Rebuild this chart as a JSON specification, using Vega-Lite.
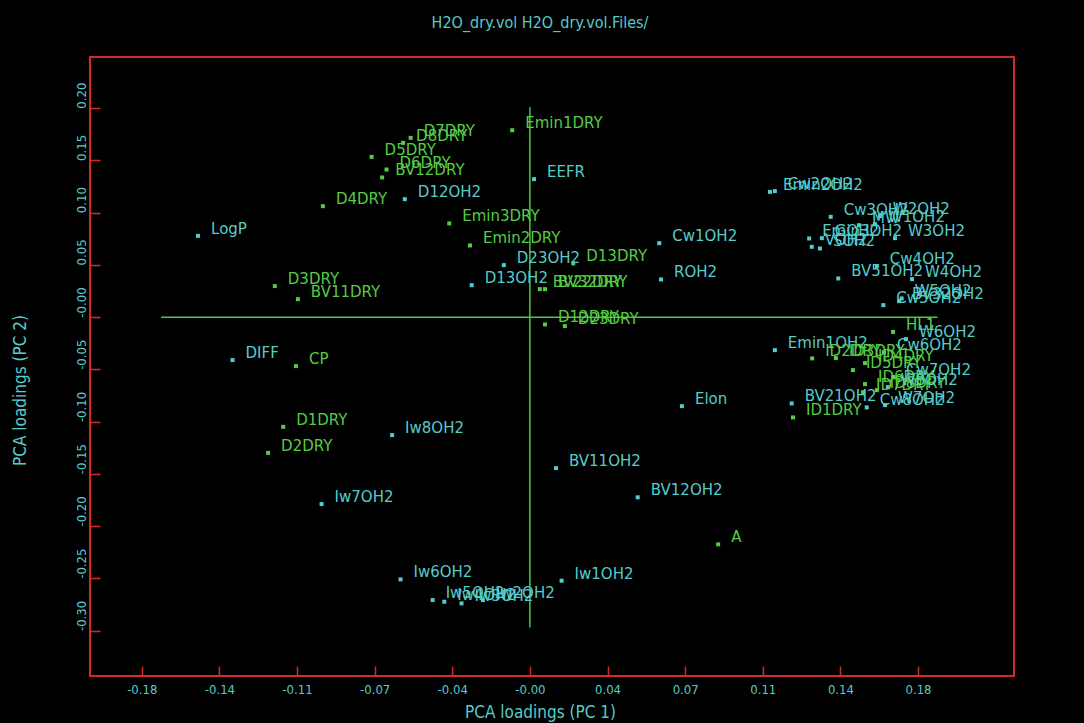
{
  "$schema": "https://vega.github.io/schema/vega-lite/v6.json",
  "width": 924,
  "height": 619,
  "autosize": "none",
  "padding": {"left": 90, "top": 57, "right": 70, "bottom": 47},
  "background": "#000000",
  "title": {
    "text": "H2O_dry.vol H2O_dry.vol.Files/",
    "color": "#55cccc",
    "font": "Liberation Sans Narrow, DejaVu Sans Condensed, sans-serif",
    "fontSize": 16,
    "fontWeight": "normal",
    "offset": 26,
    "dx": -12
  },
  "config": {
    "view": {"stroke": "#d42a2a", "strokeWidth": 2},
    "axis": {
      "grid": false,
      "domain": false,
      "tickColor": "#d42a2a",
      "tickWidth": 1.5,
      "tickSize": -10,
      "labelColor": "#55cccc",
      "labelFont": "Liberation Sans Narrow, DejaVu Sans Condensed, sans-serif",
      "labelFontSize": 13,
      "titleColor": "#55cccc",
      "titleFont": "Liberation Sans Narrow, DejaVu Sans Condensed, sans-serif",
      "titleFontSize": 17,
      "titleFontWeight": "normal"
    }
  },
  "datasets": {
    "cross": [
      {"x1": -0.171, "x2": 0.189, "y1": 0, "y2": 0},
      {"x1": 0, "x2": 0, "y1": 0.201, "y2": -0.297}
    ],
    "loadings": [
      {"name": "LogP", "pc1": -0.1539, "pc2": 0.0778, "set": "OH2"},
      {"name": "D4DRY", "pc1": -0.0960, "pc2": 0.1062, "set": "DRY"},
      {"name": "D3DRY", "pc1": -0.1183, "pc2": 0.0297, "set": "DRY"},
      {"name": "BV11DRY", "pc1": -0.1076, "pc2": 0.0172, "set": "DRY"},
      {"name": "D12OH2", "pc1": -0.0580, "pc2": 0.1129, "set": "OH2"},
      {"name": "D7DRY", "pc1": -0.0553, "pc2": 0.1716, "set": "DRY"},
      {"name": "D8DRY", "pc1": -0.0588, "pc2": 0.1668, "set": "DRY"},
      {"name": "D5DRY", "pc1": -0.0734, "pc2": 0.1534, "set": "DRY"},
      {"name": "D6DRY", "pc1": -0.0665, "pc2": 0.1413, "set": "DRY"},
      {"name": "BV12DRY", "pc1": -0.0685, "pc2": 0.1337, "set": "DRY"},
      {"name": "Emin1DRY", "pc1": -0.0082, "pc2": 0.1789, "set": "DRY"},
      {"name": "EEFR", "pc1": 0.0019, "pc2": 0.1321, "set": "OH2"},
      {"name": "Emin3DRY", "pc1": -0.0374, "pc2": 0.0897, "set": "DRY"},
      {"name": "Emin2DRY", "pc1": -0.0278, "pc2": 0.0686, "set": "DRY"},
      {"name": "D23OH2", "pc1": -0.0121, "pc2": 0.0498, "set": "OH2"},
      {"name": "D13DRY", "pc1": 0.0201, "pc2": 0.0514, "set": "DRY"},
      {"name": "D13OH2", "pc1": -0.0270, "pc2": 0.0306, "set": "OH2"},
      {"name": "BV22DRY", "pc1": 0.0046, "pc2": 0.0268, "set": "DRY"},
      {"name": "BV32DRY", "pc1": 0.0070, "pc2": 0.0268, "set": "DRY"},
      {"name": "Cw1OH2", "pc1": 0.0600, "pc2": 0.0708, "set": "OH2"},
      {"name": "ROH2", "pc1": 0.0608, "pc2": 0.0361, "set": "OH2"},
      {"name": "D12DRY", "pc1": 0.0070, "pc2": -0.0070, "set": "DRY"},
      {"name": "D23DRY", "pc1": 0.0162, "pc2": -0.0086, "set": "DRY"},
      {"name": "DIFF", "pc1": -0.1379, "pc2": -0.0411, "set": "OH2"},
      {"name": "CP", "pc1": -0.1085, "pc2": -0.0469, "set": "DRY"},
      {"name": "D1DRY", "pc1": -0.1144, "pc2": -0.1050, "set": "DRY"},
      {"name": "D2DRY", "pc1": -0.1214, "pc2": -0.1299, "set": "DRY"},
      {"name": "Iw7OH2", "pc1": -0.0966, "pc2": -0.1789, "set": "OH2"},
      {"name": "Iw8OH2", "pc1": -0.0639, "pc2": -0.1129, "set": "OH2"},
      {"name": "BV11OH2", "pc1": 0.0121, "pc2": -0.1445, "set": "OH2"},
      {"name": "BV12OH2", "pc1": 0.0500, "pc2": -0.1725, "set": "OH2"},
      {"name": "A", "pc1": 0.0873, "pc2": -0.2175, "set": "DRY"},
      {"name": "Iw6OH2", "pc1": -0.0600, "pc2": -0.2510, "set": "OH2"},
      {"name": "Iw1OH2", "pc1": 0.0147, "pc2": -0.2523, "set": "OH2"},
      {"name": "Iw5OH2", "pc1": -0.0451, "pc2": -0.2708, "set": "OH2"},
      {"name": "Iw4OH2", "pc1": -0.0397, "pc2": -0.2724, "set": "OH2"},
      {"name": "Iw3OH2", "pc1": -0.0317, "pc2": -0.2740, "set": "OH2"},
      {"name": "Iw2OH2", "pc1": -0.0218, "pc2": -0.2708, "set": "OH2"},
      {"name": "Elon", "pc1": 0.0705, "pc2": -0.0852, "set": "OH2"},
      {"name": "Emin1OH2", "pc1": 0.1136, "pc2": -0.0316, "set": "OH2"},
      {"name": "BV21OH2", "pc1": 0.1214, "pc2": -0.0826, "set": "OH2"},
      {"name": "ID1DRY", "pc1": 0.1220, "pc2": -0.0960, "set": "DRY"},
      {"name": "HL1", "pc1": 0.1684, "pc2": -0.0141, "set": "DRY"},
      {"name": "W6OH2", "pc1": 0.1744, "pc2": -0.0211, "set": "OH2"},
      {"name": "Cw6OH2", "pc1": 0.1642, "pc2": -0.0335, "set": "OH2"},
      {"name": "Emin2OH2", "pc1": 0.1113, "pc2": 0.1199, "set": "OH2"},
      {"name": "Cw2OH2", "pc1": 0.1136, "pc2": 0.1206, "set": "OH2"},
      {"name": "Cw3OH2", "pc1": 0.1395, "pc2": 0.0960, "set": "OH2"},
      {"name": "W2OH2", "pc1": 0.1623, "pc2": 0.0967, "set": "OH2"},
      {"name": "MW", "pc1": 0.1526, "pc2": 0.0880, "set": "OH2"},
      {"name": "W1OH2", "pc1": 0.1600, "pc2": 0.0890, "set": "OH2"},
      {"name": "W3OH2", "pc1": 0.1693, "pc2": 0.0756, "set": "OH2"},
      {"name": "GOH2", "pc1": 0.1354, "pc2": 0.0756, "set": "OH2"},
      {"name": "Emin3OH2", "pc1": 0.1295, "pc2": 0.0753, "set": "OH2"},
      {"name": "VOH2", "pc1": 0.1307, "pc2": 0.0673, "set": "OH2"},
      {"name": "SOH2", "pc1": 0.1345, "pc2": 0.0657, "set": "OH2"},
      {"name": "Cw4OH2", "pc1": 0.1609, "pc2": 0.0488, "set": "OH2"},
      {"name": "BV51OH2", "pc1": 0.1430, "pc2": 0.0370, "set": "OH2"},
      {"name": "W4OH2", "pc1": 0.1772, "pc2": 0.0364, "set": "OH2"},
      {"name": "BV32OH2", "pc1": 0.1712, "pc2": 0.0153, "set": "OH2"},
      {"name": "Cw5OH2", "pc1": 0.1639, "pc2": 0.0115, "set": "OH2"},
      {"name": "W5OH2", "pc1": 0.1724, "pc2": 0.0179, "set": "OH2"},
      {"name": "ID2DRY", "pc1": 0.1309, "pc2": -0.0395, "set": "DRY"},
      {"name": "ID3DRY", "pc1": 0.1419, "pc2": -0.0392, "set": "DRY"},
      {"name": "ID4DRY", "pc1": 0.1554, "pc2": -0.0440, "set": "DRY"},
      {"name": "ID5DRY", "pc1": 0.1498, "pc2": -0.0507, "set": "DRY"},
      {"name": "ID6DRY", "pc1": 0.1554, "pc2": -0.0641, "set": "DRY"},
      {"name": "ID7DRY", "pc1": 0.1545, "pc2": -0.0718, "set": "DRY"},
      {"name": "ID8DRY", "pc1": 0.1609, "pc2": -0.0699, "set": "DRY"},
      {"name": "Cw7OH2", "pc1": 0.1684, "pc2": -0.0574, "set": "OH2"},
      {"name": "W8OH2", "pc1": 0.1660, "pc2": -0.0670, "set": "OH2"},
      {"name": "Cw8OH2", "pc1": 0.1562, "pc2": -0.0864, "set": "OH2"},
      {"name": "W7OH2", "pc1": 0.1647, "pc2": -0.0842, "set": "OH2"}
    ]
  },
  "layer": [
    {
      "data": {"name": "cross"},
      "mark": {"type": "rule", "color": "#44cc44", "strokeWidth": 1.5},
      "encoding": {
        "x": {"field": "x1", "type": "quantitative", "scale": {"domain": [-0.204, 0.2245], "nice": false, "zero": false}},
        "x2": {"field": "x2"},
        "y": {"field": "y1", "type": "quantitative", "scale": {"domain": [-0.3435, 0.249], "nice": false, "zero": false}},
        "y2": {"field": "y2"}
      }
    },
    {
      "data": {"name": "loadings"},
      "mark": {"type": "square", "size": 16, "filled": true, "opacity": 1},
      "encoding": {
        "x": {
          "field": "pc1", "type": "quantitative",
          "scale": {"domain": [-0.204, 0.2245], "nice": false, "zero": false},
          "axis": {
            "values": [-0.18, -0.144, -0.108, -0.072, -0.036, 0, 0.036, 0.072, 0.108, 0.144, 0.18],
            "labelExpr": "datum.value == 0 ? '-0.00' : replace(format(datum.value, '.2f'), '\u2212', '-')",
            "labelPadding": 17,
            "labelBaseline": "top",
            "title": "PCA loadings (PC 1)",
            "titleX": 450,
            "titleY": 36,
            "titleAlign": "center",
            "titleBaseline": "middle"
          }
        },
        "y": {
          "field": "pc2", "type": "quantitative",
          "scale": {"domain": [-0.3435, 0.249], "nice": false, "zero": false},
          "axis": {
            "values": [0.2, 0.15, 0.1, 0.05, 0, -0.05, -0.1, -0.15, -0.2, -0.25, -0.3],
            "labelExpr": "datum.value == 0 ? '-0.00' : replace(format(datum.value, '.2f'), '\u2212', '-')",
            "labelAngle": -90,
            "labelAlign": "left",
            "labelBaseline": "bottom",
            "labelPadding": 12,
            "title": "PCA loadings (PC 2)",
            "titleX": -70,
            "titleY": 333,
            "titleAngle": -90,
            "titleAlign": "center",
            "titleBaseline": "middle"
          }
        },
        "color": {
          "field": "set", "type": "nominal",
          "scale": {"domain": ["DRY", "OH2"], "range": ["#55cc44", "#55cccc"]},
          "legend": null
        }
      }
    },
    {
      "data": {"name": "loadings"},
      "mark": {"type": "text", "align": "left", "baseline": "middle", "dx": 13, "dy": -7, "font": "DejaVu Sans", "fontSize": 15},
      "encoding": {
        "x": {"field": "pc1", "type": "quantitative"},
        "y": {"field": "pc2", "type": "quantitative"},
        "text": {"field": "name"},
        "color": {"field": "set", "type": "nominal", "legend": null}
      }
    }
  ]
}
